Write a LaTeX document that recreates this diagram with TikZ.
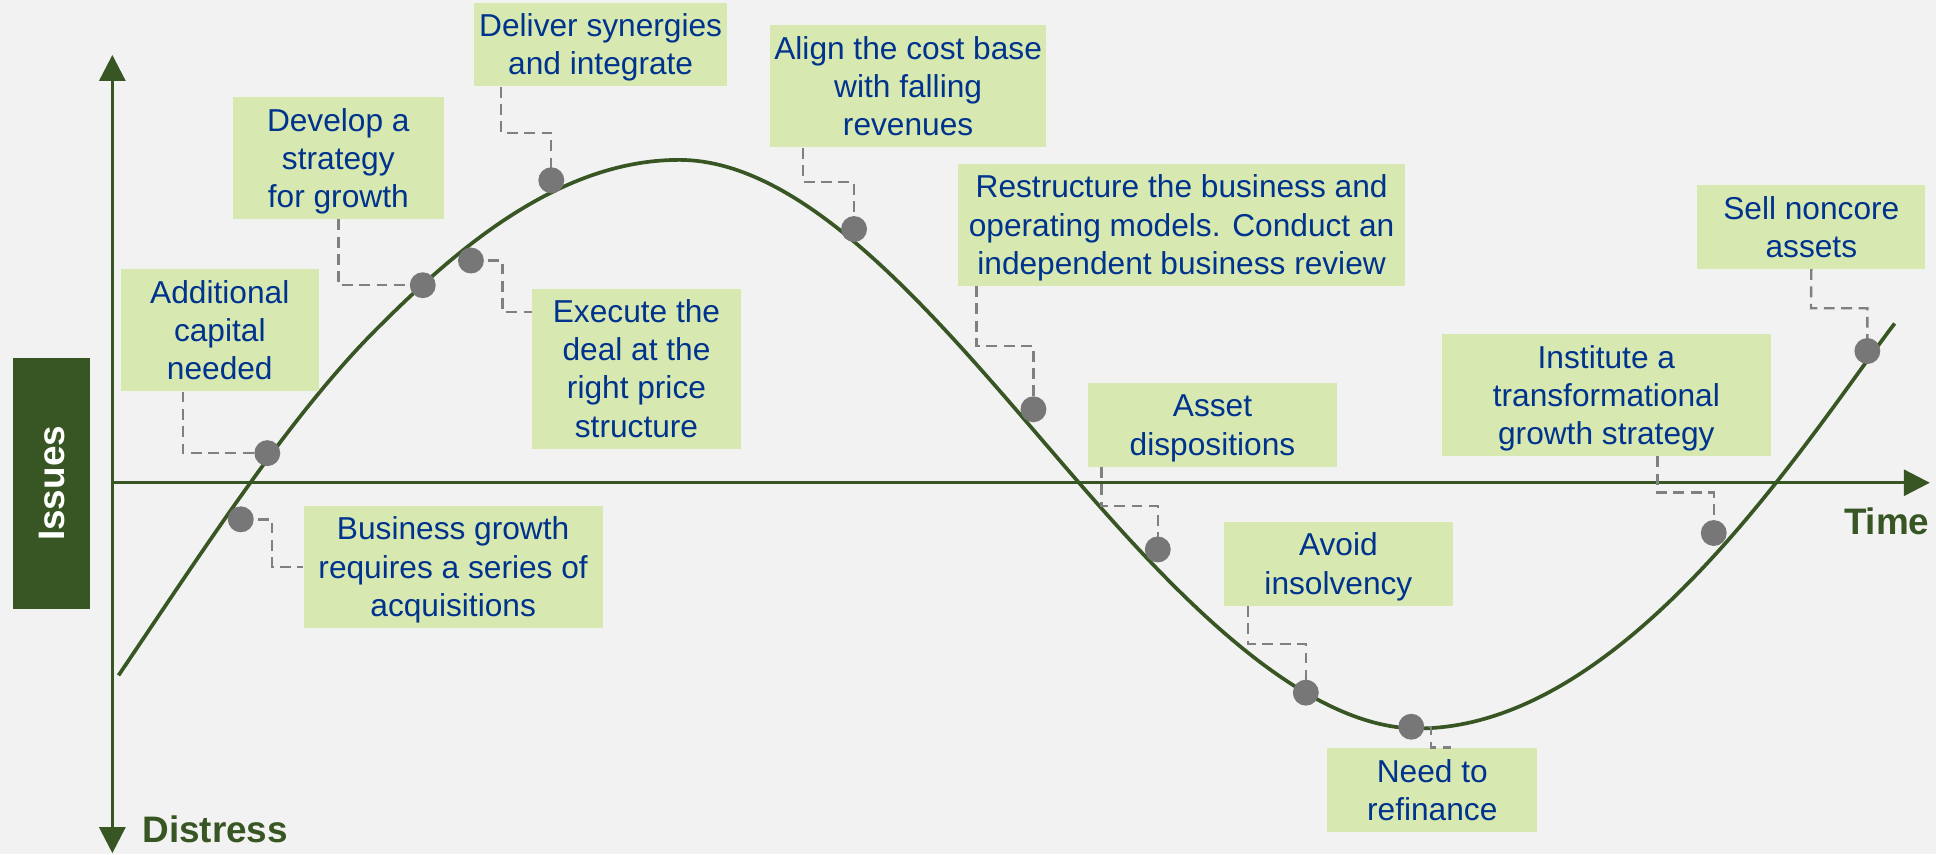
\documentclass[tikz,border=0pt]{standalone}
\usepackage{fontspec}
\setmainfont{Liberation Sans}
\usetikzlibrary{arrows.meta}

\definecolor{darkgreen}{HTML}{375623}
\definecolor{boxgreen}{HTML}{D7E8B0}
\definecolor{textblue}{HTML}{00338D}
\definecolor{dotgray}{HTML}{777777}
\definecolor{leadgray}{HTML}{808080}
\definecolor{bggray}{HTML}{F2F2F2}

\newcommand{\acttext}[1]{\begin{tabular}{@{}c@{}}\rule{0pt}{15.7pt}#1\end{tabular}}

\tikzset{
  actionbox/.style={rectangle, fill=boxgreen, text=textblue, inner sep=0pt, font=\fontsize{14.6}{17.6}\selectfont},
  stage/.style={circle, fill=dotgray, inner sep=0pt, minimum size=0.42cm},
  leader/.style={draw=leadgray, line width=1.1pt, dash pattern=on 5pt off 3pt},
  axis/.style={draw=darkgreen, line width=1.4pt},
  lifeline/.style={draw=darkgreen, line width=1.7pt},
  axislabel/.style={text=darkgreen, inner sep=0pt, font=\fontsize{17}{20}\selectfont\bfseries},
  sidebox/.style={rectangle, fill=darkgreen, text=white, inner sep=0pt, font=\fontsize{17}{20}\selectfont\bfseries}
}

\begin{document}
\begin{tikzpicture}[x=0.02cm, y=-0.02cm]
 \fill[bggray] (0,0) rectangle (1568,692);

 \coordinate (ytop) at (91,44.5);
 \coordinate (ybot) at (91,691);
 \coordinate (orig) at (91,391);
 \coordinate (xend) at (1563,391);
 \draw[axis, {Triangle[length=12pt,width=12pt]}-{Triangle[length=12pt,width=12pt]}] (ytop) -- (ybot);
 \draw[axis, -{Triangle[length=12pt,width=12pt]}] (orig) -- (xend);

 \node (issues) [sidebox, rotate=90, minimum width=4.06cm, minimum height=1.25cm] at (41.75,391.5) {Issues};
 \node (time) [axislabel, anchor=east] at (1563,422.5) {Time};
 \node (distress) [axislabel, anchor=west] at (115,672) {Distress};

 % business cycle curve
 \draw[lifeline] (96,547) .. controls (166,443.4) and (235,336.5) .. (305,266.5)
   .. controls (365,206.5) and (450,129.5) .. (550,129.5)
   .. controls (660,129.5) and (773,275) .. (873,390)
   .. controls (948,476.25) and (1053,590) .. (1148,590)
   .. controls (1318,590) and (1464.5,353.7) .. (1534.5,262);

 \node (addl) [actionbox, minimum width=3.2cm, minimum height=1.9cm] at (178,267.5) {\acttext{Additional\\ capital\\ needed}};
 \node (dev) [actionbox, minimum width=3.42cm, minimum height=1.9cm] at (274,128) {\acttext{Develop a\\ strategy\\ for growth}};
 \node (deliv) [actionbox, minimum width=4.1cm, minimum height=1.25cm] at (486.5,36) {\acttext{Deliver synergies\\ and integrate}};
 \node (exec) [actionbox, minimum width=3.38cm, minimum height=2.5cm] at (515.5,298.5) {\acttext{Execute the\\ deal at the\\ right price\\ structure}};
 \node (bgrow) [actionbox, minimum width=4.84cm, minimum height=1.89cm] at (367,459) {\acttext{Business growth\\ requires a series of\\ acquisitions}};
 \node (align) [actionbox, minimum width=4.46cm, minimum height=1.89cm] at (735.5,70) {\acttext{Align the cost base\\ with falling\\ revenues}};
 \node (restr) [actionbox, minimum width=7.24cm, minimum height=1.89cm] at (957,182) {\acttext{Restructure the business and\\ operating models. Conduct an\\ independent business review}};
 \node (asset) [actionbox, minimum width=4.04cm, minimum height=1.26cm] at (982,344) {\acttext{Asset\\ dispositions}};
 \node (avoid) [actionbox, minimum width=3.71cm, minimum height=1.26cm] at (1084,456.6) {\acttext{Avoid\\ insolvency}};
 \node (need) [actionbox, minimum width=3.4cm, minimum height=1.25cm] at (1160,639.7) {\acttext{Need to\\ refinance}};
 \node (inst) [actionbox, minimum width=5.32cm, minimum height=1.89cm] at (1301,320) {\acttext{Institute a\\ transformational\\ growth strategy}};
 \node (sell) [actionbox, minimum width=3.69cm, minimum height=1.25cm] at (1467,183.7) {\acttext{Sell noncore\\ assets}};

 \coordinate (d1) at (216.5,367);
 \coordinate (d2) at (195,420.6);
 \coordinate (d3) at (342.4,231);
 \coordinate (d4) at (381.4,211);
 \coordinate (d5) at (446.5,146);
 \coordinate (d6) at (691.7,185.5);
 \coordinate (d7) at (837,331.5);
 \coordinate (d8) at (937.7,445);
 \coordinate (d9) at (1057.6,561);
 \coordinate (d10) at (1143,588.6);
 \coordinate (d11) at (1388,431.7);
 \coordinate (d12) at (1512.4,284.3);

 \draw[leader] (148,0 |- addl.south) |- (d1);
 \draw[leader] (d2) -- ++(25.5,0) |- (bgrow.west);
 \draw[leader] (dev.south) |- (d3);
 \draw[leader] (d4) -- ++(25.6,0) |- (exec.west |- 0,252.7);
 \draw[leader] (405.6,0 |- deliv.south) -- (405.6,107.5) -| (d5);
 \draw[leader] (650.5,0 |- align.south) -- (650.5,147.4) -| (d6);
 \draw[leader] (791,0 |- restr.south) -- (791,280) -| (d7);
 \draw[leader] (892,0 |- asset.south) -- (892,410) -| (d8);
 \draw[leader] (1011,0 |- avoid.south) -- (1011,521.6) -| (d9);
 \draw[leader] (d10) -| (1159,0 |- need.north) -- ++(16,0);
 \draw[leader] (1342.4,0 |- inst.south) -- (1342.4,399) -| (d11);
 \draw[leader] (sell.south) -- (1466.7,249.7) -| (d12);

 \foreach \d in {d1,d2,d3,d4,d5,d6,d7,d8,d9,d10,d11,d12}
   \node[stage] at (\d) {};
\end{tikzpicture}
\end{document}
